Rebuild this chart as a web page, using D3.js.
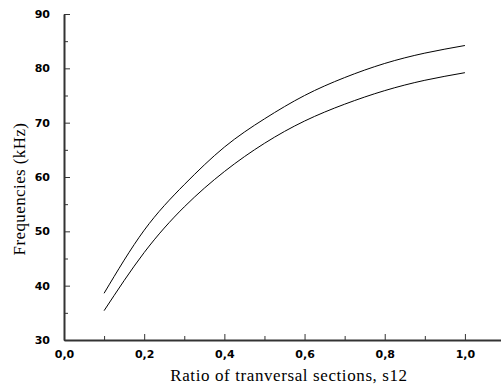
<!DOCTYPE html>
<html>
  <head>
    <meta charset="utf-8">
    <style>
      body { margin: 0; background-color: white; }
      .tick text { font-family: "DejaVu Sans", sans-serif; font-weight: bold; font-size: 11px; fill: #000; }
      .axis path, .axis line { stroke: #333; }
      .title { font-family: "Liberation Serif", "Times New Roman", serif; font-size: 17px; fill: #000; }
    </style>
  </head>
  <body>
    <svg width="501" height="388"></svg>
    <script src="https://d3js.org/d3.v7.min.js"></script>
    <script>
    var ratio = [0.1, 0.2, 0.3, 0.4, 0.5, 0.6, 0.7, 0.8, 0.9, 1.0];
    var upperFreq = [38.6, 50.2, 58.6, 65.5, 70.7, 75.0, 78.3, 80.9, 82.8, 84.2];
    var lowerFreq = [35.4, 46.1, 54.5, 61.0, 66.2, 70.3, 73.4, 75.9, 77.8, 79.2];
    var xMajor = [0, 0.2, 0.4, 0.6, 0.8, 1.0];
    var xMinor = [0.1, 0.3, 0.5, 0.7, 0.9];
    var yMajor = [30, 40, 50, 60, 70, 80, 90];
    var yMinor = [35, 45, 55, 65, 75, 85];

    var svg = d3.select("svg");

    var x = d3.scaleLinear().domain([0, 1.09]).range([64, 501]);
    var y = d3.scaleLinear().domain([30, 90]).range([340, 14]);

    var fmt = function(d) { return d3.format(".1f")(d).replace(".", ","); };

    // minor ticks first, majors on top
    svg.append("g")
        .attr("class", "axis")
        .attr("transform", "translate(0,340)")
        .call(d3.axisBottom(x).tickValues(xMinor).tickSize(-4).tickFormat(""))
        .select(".domain").remove();
    svg.append("g")
        .attr("class", "axis")
        .attr("transform", "translate(64,0)")
        .call(d3.axisLeft(y).tickValues(yMinor).tickSize(-4).tickFormat(""))
        .select(".domain").remove();

    var xAxis = svg.append("g")
        .attr("class", "axis")
        .attr("transform", "translate(0,340)")
        .call(d3.axisBottom(x).tickValues(xMajor).tickSize(-6).tickPadding(10).tickFormat(fmt).tickSizeOuter(0));
    xAxis.select(".domain").attr("stroke-width", 2);

    var yAxis = svg.append("g")
        .attr("class", "axis")
        .attr("transform", "translate(64,0)")
        .call(d3.axisLeft(y).tickValues(yMajor).tickSize(-6).tickPadding(14).tickFormat(d3.format("d")).tickSizeOuter(0));
    yAxis.select(".domain").attr("stroke-width", 2);

    var line = d3.line()
        .x(function(d) { return x(d[0]); })
        .y(function(d) { return y(d[1]); })
        .curve(d3.curveNatural);

    [upperFreq, lowerFreq].forEach(function(s) {
      svg.append("path")
          .datum(ratio.map(function(r, i) { return [r, s[i]]; }))
          .attr("fill", "none")
          .attr("stroke", "#000")
          .attr("stroke-width", 1)
          .attr("d", line);
    });

    svg.append("text")
        .attr("class", "title")
        .attr("x", 289)
        .attr("y", 381)
        .attr("text-anchor", "middle")
        .attr("letter-spacing", "0.6px")
        .text("Ratio of tranversal sections, s12");

    svg.append("text")
        .attr("class", "title")
        .attr("transform", "translate(25,189) rotate(-90)")
        .attr("text-anchor", "middle")
        .attr("letter-spacing", "0.4px")
        .text("Frequencies (kHz)");
    </script>
  </body>
</html>
